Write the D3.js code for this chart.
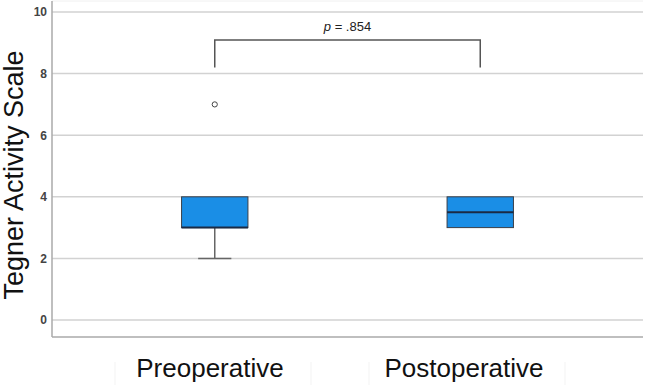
<!DOCTYPE html>
<html>
<head>
<meta charset="utf-8">
<script src="https://cdn.jsdelivr.net/npm/d3@7"></script>
<style>
  body { margin: 0; background: #fff; }
  svg { display: block; font-family: "Liberation Sans", Arial, sans-serif; }
</style>
</head>
<body>
<div id="chart"></div>
<script>
// data
let groups = ["Preoperative", "Postoperative"];
let lowWhisker = [2, 3];
let q1 = [3, 3];
let medians = [3, 3.5];
let q3 = [4, 4];
let highWhisker = [4, 4];
let outliers = [[7], []];
let yTicks = [0, 2, 4, 6, 8, 10];
let pLabel = ".854";

let width = 645, height = 385;
let plot = {left: 52, right: 643, top: 1, bottom: 337};

let svg = d3.select("#chart")
  .append("svg")
    .attr("width", width)
    .attr("height", height);

let yScale = d3.scaleLinear()
  .domain([0, 10])
  .range([320, 12]);

let xScale = d3.scaleBand()
  .domain(groups)
  .range([82, 613])
  .paddingInner(0.75)
  .paddingOuter(0.375);

// category labels sit a bit left of the boxes
let labelX = d3.scalePoint()
  .domain(groups)
  .range([210, 464]);

// gridlines
svg.append("g").selectAll("line").data(yTicks).enter()
  .append("line")
    .attr("x1", plot.left)
    .attr("x2", plot.right)
    .attr("y1", d => yScale(d))
    .attr("y2", d => yScale(d))
    .attr("stroke", "#d2d2d2")
    .attr("stroke-width", 1.5);

// faint top line
svg.append("line")
  .attr("x1", plot.left).attr("x2", plot.right)
  .attr("y1", plot.top).attr("y2", plot.top)
  .attr("stroke", "#f0f0f0");

// y axis
let yAxis = d3.axisLeft(yScale).tickValues(yTicks).tickSize(0).tickPadding(4);
let yAxisGroup = svg.append("g")
  .attr("transform", "translate(" + (plot.left - 1) + ",0)")
  .call(yAxis);
yAxisGroup.select(".domain").remove();
yAxisGroup.selectAll("text")
  .attr("font-size", 12)
  .attr("font-weight", "bold")
  .attr("fill", "#444")
  .attr("font-family", "Liberation Sans, Arial, sans-serif");

svg.append("line")
  .attr("x1", plot.left).attr("x2", plot.left)
  .attr("y1", plot.top).attr("y2", plot.bottom)
  .attr("stroke", "#aaa").attr("stroke-width", 1.5);
svg.append("line")
  .attr("x1", plot.left).attr("x2", plot.right)
  .attr("y1", plot.bottom).attr("y2", plot.bottom)
  .attr("stroke", "#aaa").attr("stroke-width", 1.5);

// y title
svg.append("text")
  .attr("transform", "translate(23," + ((plot.top + plot.bottom) / 2 + 6) + ") rotate(-90)")
  .attr("text-anchor", "middle")
  .attr("font-size", 27)
  .attr("fill", "#111")
  .text("Tegner Activity Scale");

// boxes
let boxes = svg.append("g").selectAll("g").data(groups).enter()
  .append("g");

let bw = xScale.bandwidth();

// whiskers
boxes.each(function(d, i) {
  let g = d3.select(this);
  let cx = xScale(d) + bw / 2;
  if (lowWhisker[i] < q1[i]) {
    g.append("line")
      .attr("x1", cx).attr("x2", cx)
      .attr("y1", yScale(q1[i])).attr("y2", yScale(lowWhisker[i]))
      .attr("stroke", "#666").attr("stroke-width", 1.5);
    g.append("line")
      .attr("x1", cx - bw / 4).attr("x2", cx + bw / 4)
      .attr("y1", yScale(lowWhisker[i])).attr("y2", yScale(lowWhisker[i]))
      .attr("stroke", "#666").attr("stroke-width", 1.5);
  }
  if (highWhisker[i] > q3[i]) {
    g.append("line")
      .attr("x1", cx).attr("x2", cx)
      .attr("y1", yScale(q3[i])).attr("y2", yScale(highWhisker[i]))
      .attr("stroke", "#666").attr("stroke-width", 1.5);
  }
});

boxes.append("rect")
  .attr("x", d => xScale(d))
  .attr("width", bw)
  .attr("y", (d, i) => yScale(q3[i]))
  .attr("height", (d, i) => yScale(q1[i]) - yScale(q3[i]))
  .attr("fill", "#1a8ee6")
  .attr("stroke", "#3a3f48")
  .attr("stroke-width", 1);

boxes.append("line")
  .attr("x1", d => xScale(d))
  .attr("x2", d => xScale(d) + bw)
  .attr("y1", (d, i) => yScale(medians[i]))
  .attr("y2", (d, i) => yScale(medians[i]))
  .attr("stroke", "#1b2a44")
  .attr("stroke-width", 2);

// outliers
groups.forEach(function(g, i) {
  svg.selectAll(null).data(outliers[i]).enter()
    .append("circle")
      .attr("cx", xScale(g) + bw / 2)
      .attr("cy", d => yScale(d))
      .attr("r", 2.6)
      .attr("fill", "#fff")
      .attr("stroke", "#444")
      .attr("stroke-width", 1);
});

// significance bracket
let bx1 = xScale(groups[0]) + bw / 2, bx2 = xScale(groups[1]) + bw / 2;
let bTop = 40, bBottom = yScale(8.2);
svg.append("path")
  .attr("d", "M" + bx1 + "," + bBottom + "V" + bTop + "H" + bx2 + "V" + bBottom)
  .attr("fill", "none")
  .attr("stroke", "#555")
  .attr("stroke-width", 1.5);

let pText = svg.append("text")
  .attr("x", (bx1 + bx2) / 2)
  .attr("y", 31)
  .attr("text-anchor", "middle")
  .attr("font-size", 13)
  .attr("fill", "#222");
pText.append("tspan").attr("font-style", "italic").text("p");
pText.append("tspan").text(" = " + pLabel);

// category labels with faint cell edges
svg.append("g").selectAll("line").data(groups.flatMap(d => [labelX(d) - 95, labelX(d) + 101])).enter()
  .append("line")
    .attr("x1", d => d).attr("x2", d => d)
    .attr("y1", 362).attr("y2", 385)
    .attr("stroke", "#f3f3f3");

svg.append("g").selectAll("text").data(groups).enter()
  .append("text")
    .attr("x", d => labelX(d))
    .attr("y", 377)
    .attr("text-anchor", "middle")
    .attr("font-size", 26)
    .attr("fill", "#111")
    .text(d => d);
</script>
</body>
</html>
